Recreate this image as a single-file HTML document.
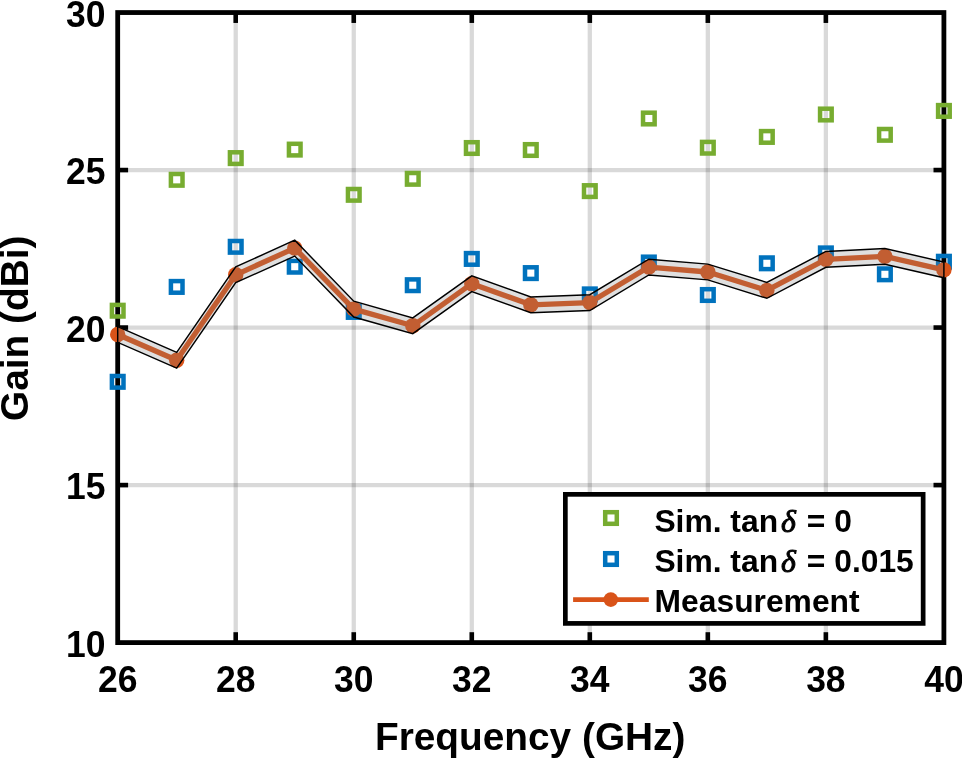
<!DOCTYPE html>
<html><head><meta charset="utf-8"><title>Gain vs Frequency</title>
<style>html,body{margin:0;padding:0;background:#fff;overflow:hidden}svg{display:block;will-change:transform}text{font-family:"Liberation Sans",sans-serif;font-weight:bold;fill:#000}.d{font-family:"Liberation Serif",serif;font-weight:normal;font-style:italic}</style></head><body>
<svg width="962" height="759" viewBox="0 0 962 759">
<rect x="0" y="0" width="962" height="759" fill="#fff"/>
<g stroke="#000" stroke-opacity="0.15" stroke-width="4.3" fill="none">
<line x1="235.73" y1="12.55" x2="235.73" y2="642.60"/>
<line x1="353.76" y1="12.55" x2="353.76" y2="642.60"/>
<line x1="471.79" y1="12.55" x2="471.79" y2="642.60"/>
<line x1="589.81" y1="12.55" x2="589.81" y2="642.60"/>
<line x1="707.84" y1="12.55" x2="707.84" y2="642.60"/>
<line x1="825.87" y1="12.55" x2="825.87" y2="642.60"/>
<line x1="117.70" y1="485.09" x2="943.90" y2="485.09"/>
<line x1="117.70" y1="327.57" x2="943.90" y2="327.57"/>
<line x1="117.70" y1="170.06" x2="943.90" y2="170.06"/>
</g>
<rect x="117.70" y="12.55" width="826.20" height="630.05" fill="none" stroke="#000" stroke-width="4.8"/>
<g stroke="#000" stroke-width="4.6" fill="none">
<line x1="235.73" y1="642.60" x2="235.73" y2="632.20"/>
<line x1="235.73" y1="12.55" x2="235.73" y2="22.95"/>
<line x1="353.76" y1="642.60" x2="353.76" y2="632.20"/>
<line x1="353.76" y1="12.55" x2="353.76" y2="22.95"/>
<line x1="471.79" y1="642.60" x2="471.79" y2="632.20"/>
<line x1="471.79" y1="12.55" x2="471.79" y2="22.95"/>
<line x1="589.81" y1="642.60" x2="589.81" y2="632.20"/>
<line x1="589.81" y1="12.55" x2="589.81" y2="22.95"/>
<line x1="707.84" y1="642.60" x2="707.84" y2="632.20"/>
<line x1="707.84" y1="12.55" x2="707.84" y2="22.95"/>
<line x1="825.87" y1="642.60" x2="825.87" y2="632.20"/>
<line x1="825.87" y1="12.55" x2="825.87" y2="22.95"/>
<line x1="117.70" y1="485.09" x2="128.10" y2="485.09"/>
<line x1="943.90" y1="485.09" x2="933.50" y2="485.09"/>
<line x1="117.70" y1="327.57" x2="128.10" y2="327.57"/>
<line x1="943.90" y1="327.57" x2="933.50" y2="327.57"/>
<line x1="117.70" y1="170.06" x2="128.10" y2="170.06"/>
<line x1="943.90" y1="170.06" x2="933.50" y2="170.06"/>
</g>
<g font-size="36.4">
<text transform="translate(117.70 691.8) scale(0.975 1)" text-anchor="middle">26</text>
<text transform="translate(235.73 691.8) scale(0.975 1)" text-anchor="middle">28</text>
<text transform="translate(353.76 691.8) scale(0.975 1)" text-anchor="middle">30</text>
<text transform="translate(471.79 691.8) scale(0.975 1)" text-anchor="middle">32</text>
<text transform="translate(589.81 691.8) scale(0.975 1)" text-anchor="middle">34</text>
<text transform="translate(707.84 691.8) scale(0.975 1)" text-anchor="middle">36</text>
<text transform="translate(825.87 691.8) scale(0.975 1)" text-anchor="middle">38</text>
<text transform="translate(943.90 691.8) scale(0.975 1)" text-anchor="middle">40</text>
<text transform="translate(105.6 656.60) scale(0.975 1)" text-anchor="end">10</text>
<text transform="translate(105.6 499.09) scale(0.975 1)" text-anchor="end">15</text>
<text transform="translate(105.6 341.57) scale(0.975 1)" text-anchor="end">20</text>
<text transform="translate(105.6 184.06) scale(0.975 1)" text-anchor="end">25</text>
<text transform="translate(105.6 26.55) scale(0.975 1)" text-anchor="end">30</text>
</g>
<text x="530.2" y="749.7" font-size="38.8" text-anchor="middle">Frequency (GHz)</text>
<text transform="translate(28.4 328.3) rotate(-90)" font-size="38.8" text-anchor="middle">Gain (dBi)</text>
<g fill="none" stroke="#77AC30" stroke-width="4.5">
<rect x="111.90" y="304.90" width="11.6" height="11.6"/>
<rect x="170.91" y="174.00" width="11.6" height="11.6"/>
<rect x="229.93" y="152.30" width="11.6" height="11.6"/>
<rect x="288.94" y="143.80" width="11.6" height="11.6"/>
<rect x="347.96" y="189.00" width="11.6" height="11.6"/>
<rect x="406.97" y="173.00" width="11.6" height="11.6"/>
<rect x="465.99" y="142.20" width="11.6" height="11.6"/>
<rect x="525.00" y="144.20" width="11.6" height="11.6"/>
<rect x="584.01" y="185.30" width="11.6" height="11.6"/>
<rect x="643.03" y="112.70" width="11.6" height="11.6"/>
<rect x="702.04" y="141.90" width="11.6" height="11.6"/>
<rect x="761.06" y="131.10" width="11.6" height="11.6"/>
<rect x="820.07" y="108.70" width="11.6" height="11.6"/>
<rect x="879.09" y="129.00" width="11.6" height="11.6"/>
<rect x="938.10" y="105.10" width="11.6" height="11.6"/>
</g>
<g fill="none" stroke="#0072BD" stroke-width="4.5">
<rect x="111.90" y="376.00" width="11.6" height="11.6"/>
<rect x="170.91" y="281.10" width="11.6" height="11.6"/>
<rect x="229.93" y="241.00" width="11.6" height="11.6"/>
<rect x="288.94" y="260.90" width="11.6" height="11.6"/>
<rect x="347.96" y="306.10" width="11.6" height="11.6"/>
<rect x="406.97" y="279.40" width="11.6" height="11.6"/>
<rect x="465.99" y="253.10" width="11.6" height="11.6"/>
<rect x="525.00" y="267.30" width="11.6" height="11.6"/>
<rect x="584.01" y="288.60" width="11.6" height="11.6"/>
<rect x="643.03" y="256.70" width="11.6" height="11.6"/>
<rect x="702.04" y="289.20" width="11.6" height="11.6"/>
<rect x="761.06" y="257.50" width="11.6" height="11.6"/>
<rect x="820.07" y="247.60" width="11.6" height="11.6"/>
<rect x="879.09" y="268.50" width="11.6" height="11.6"/>
<rect x="938.10" y="255.95" width="11.6" height="11.6"/>
</g>
<polyline points="117.70,334.50 176.71,360.30 235.73,274.80 294.74,248.10 353.76,309.10 412.77,325.80 471.79,283.70 530.80,304.80 589.81,302.60 648.83,267.10 707.84,272.00 766.86,290.40 825.87,259.35 884.89,256.40 943.90,269.90" fill="none" stroke="#D95319" stroke-width="5.3" stroke-linejoin="round"/>
<g fill="#D95319">
<circle cx="117.70" cy="334.50" r="7.7"/>
<circle cx="176.71" cy="360.30" r="7.7"/>
<circle cx="235.73" cy="274.80" r="7.7"/>
<circle cx="294.74" cy="248.10" r="7.7"/>
<circle cx="353.76" cy="309.10" r="7.7"/>
<circle cx="412.77" cy="325.80" r="7.7"/>
<circle cx="471.79" cy="283.70" r="7.7"/>
<circle cx="530.80" cy="304.80" r="7.7"/>
<circle cx="589.81" cy="302.60" r="7.7"/>
<circle cx="648.83" cy="267.10" r="7.7"/>
<circle cx="707.84" cy="272.00" r="7.7"/>
<circle cx="766.86" cy="290.40" r="7.7"/>
<circle cx="825.87" cy="259.35" r="7.7"/>
<circle cx="884.89" cy="256.40" r="7.7"/>
<circle cx="943.90" cy="269.90" r="7.7"/>
</g>
<polygon points="117.70,326.60 176.71,352.40 235.73,266.90 294.74,240.20 353.76,301.20 412.77,317.90 471.79,275.80 530.80,296.90 589.81,294.70 648.83,259.20 707.84,264.10 766.86,282.50 825.87,251.45 884.89,248.50 943.90,262.00 943.90,277.80 884.89,264.30 825.87,267.25 766.86,298.30 707.84,279.90 648.83,275.00 589.81,310.50 530.80,312.70 471.79,291.60 412.77,333.70 353.76,317.00 294.74,256.00 235.73,282.70 176.71,368.20 117.70,342.40" fill="#808080" fill-opacity="0.25" stroke="#000" stroke-width="1.45" stroke-linejoin="miter"/>
<rect x="565.35" y="494.35" width="357.80" height="129.05" fill="#fff" stroke="#000" stroke-width="4.7"/>
<rect x="605.20" y="512.20" width="11.6" height="11.6" fill="none" stroke="#77AC30" stroke-width="4.5"/>
<rect x="605.20" y="553.20" width="11.6" height="11.6" fill="none" stroke="#0072BD" stroke-width="4.5"/>
<line x1="573.1" y1="599.6" x2="648.8" y2="599.6" stroke="#D95319" stroke-width="4.6"/>
<circle cx="610.8" cy="599.6" r="7.35" fill="#D95319"/>
<g font-size="31.8">
<text x="654.4" y="531.7">Sim. tan</text>
<text class="d" x="781" y="531.7" font-size="31.8" stroke="#000" stroke-width="1.0">&#948;</text>
<text x="798" y="531.7" xml:space="preserve"> = 0</text>
<text x="654.4" y="572.4">Sim. tan</text>
<text class="d" x="781" y="572.4" font-size="31.8" stroke="#000" stroke-width="1.0">&#948;</text>
<text x="798" y="572.4" xml:space="preserve"> = 0.015</text>
<text x="654.6" y="611.7">Measurement</text>
</g>
</svg></body></html>
